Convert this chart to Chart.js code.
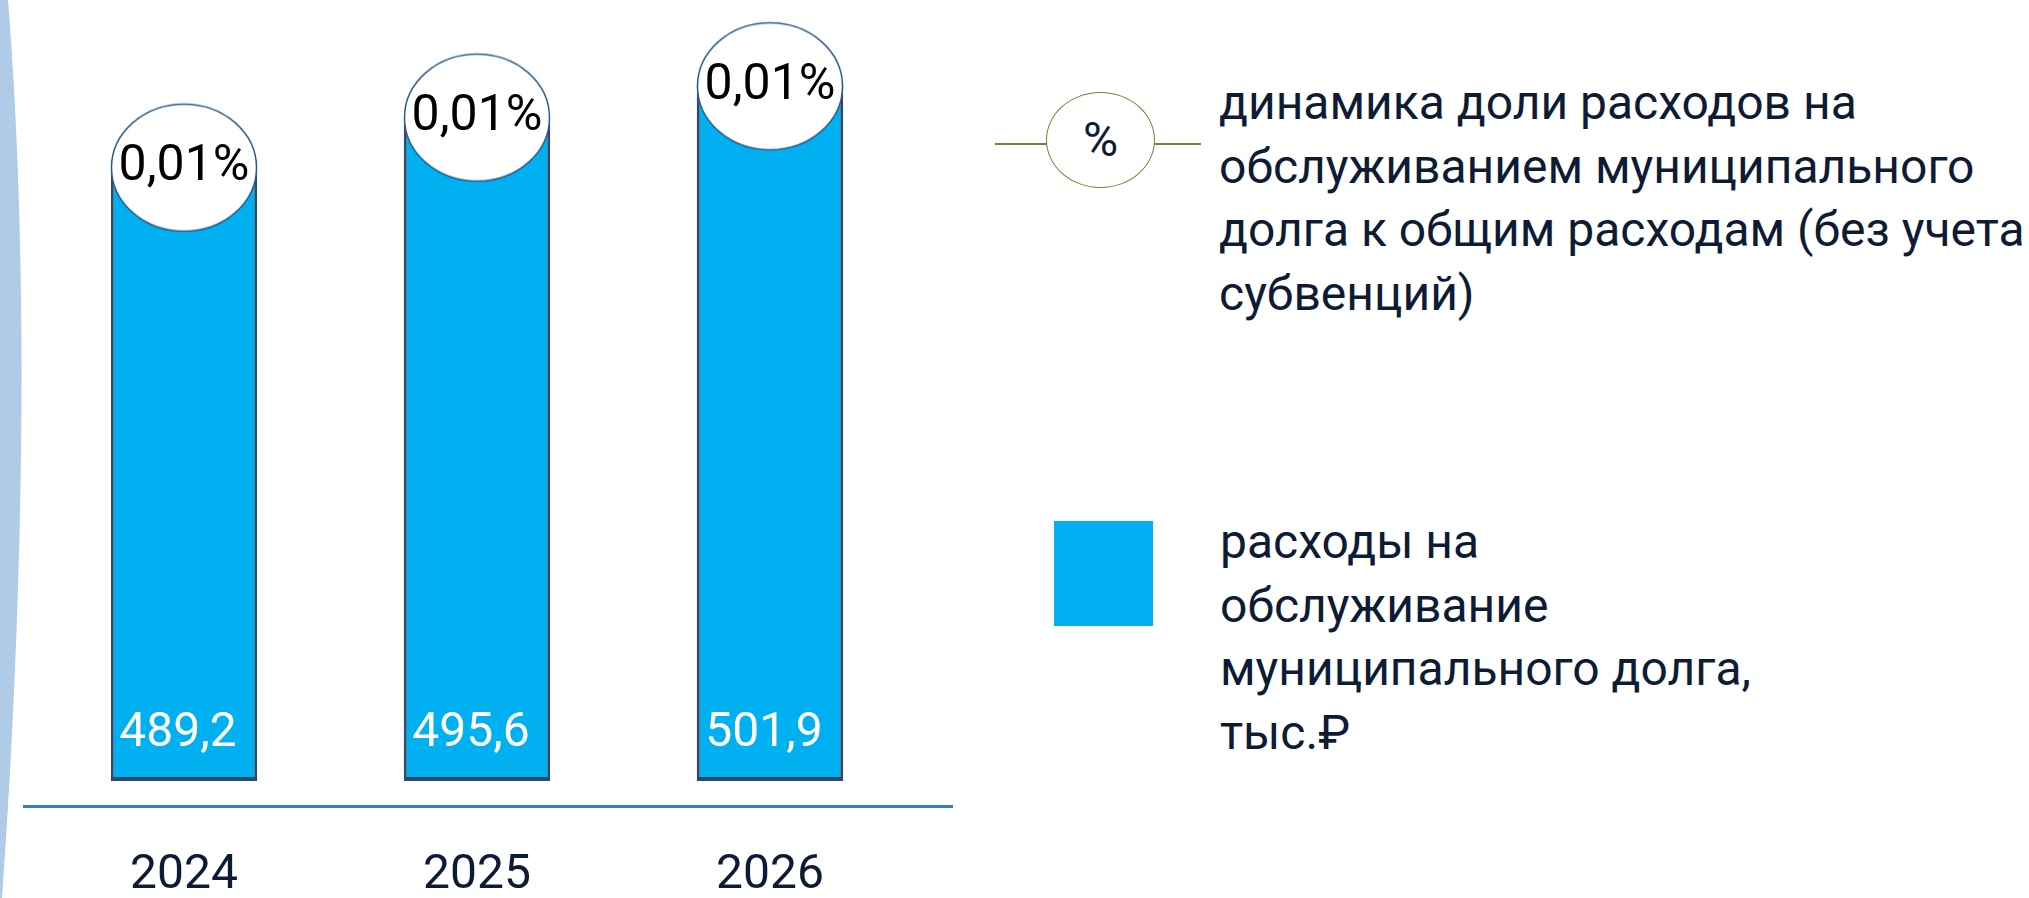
<!DOCTYPE html>
<html lang="ru">
<head>
<meta charset="utf-8">
<title>Расходы на обслуживание муниципального долга</title>
<script src="https://cdn.jsdelivr.net/npm/chart.js@4/dist/chart.umd.min.js"></script>
<style>
  html, body { margin: 0; padding: 0; background: #fff; }
  body { width: 2029px; height: 898px; position: relative; overflow: hidden; font-family: Roboto, "Noto Sans", sans-serif; }
  #stripe { position: absolute; left: 0; top: 0; z-index: 2; }
  #chartBox { position: absolute; left: 0; top: 0; width: 980px; height: 946px; }
  .legend-text { position: absolute; font-size: 48px; line-height: 63.5px; color: #0e1b34; white-space: nowrap; }
  #lineMark { position: absolute; left: 995px; top: 143px; width: 206px; height: 2px; background: #77813c; }
  #ellMark { position: absolute; left: 1046px; top: 92px; width: 107px; height: 94px; border: 1.5px solid #77813c; border-radius: 50%; background: #fff;
             font-size: 48px; line-height: 94px; text-align: center; color: #0e1b34; }
  #boxMark { position: absolute; left: 1054px; top: 521px; width: 99px; height: 105px; background: #00b0f0; }
</style>
</head>
<body>
<svg id="stripe" width="40" height="898"><path d="M0 0 L8 0 C 24 200, 30 500, 2 898 L0 898 Z" fill="#afcbe7"/></svg>
<div id="chartBox"><canvas id="debtChart"></canvas></div>

<div id="lineMark"></div>
<div id="ellMark">%</div>
<div class="legend-text" id="legendShare" style="left:1219px; top:71px;"></div>

<div id="boxMark"></div>
<div class="legend-text" id="legendCost" style="left:1220px; top:510px;"></div>

<script>
// данные
var years = ['2024', '2025', '2026'];
var costs = [489.2, 495.6, 501.9];          // тыс. руб.
var shares = [0.0102, 0.0110, 0.0115];      // %, на графике округлено до 0,01%
var shareLabel = ['динамика доли расходов на', 'обслуживанием муниципального', 'долга к общим расходам (без учета', 'субвенций)'];
var costLabel = ['расходы на', 'обслуживание', 'муниципального долга,', 'тыс.₽'];

document.getElementById('legendShare').innerHTML = shareLabel.join('<br>');
document.getElementById('legendCost').innerHTML = costLabel.join('<br>');

// белый овал для точек
var oval = document.createElement('canvas');
oval.width = 150;
oval.height = 132;
var octx = oval.getContext('2d');
octx.beginPath();
octx.ellipse(75, 66, 72.5, 63.5, 0, 0, Math.PI * 2);
octx.fillStyle = '#ffffff';
octx.fill();
octx.lineWidth = 1.5;
octx.strokeStyle = '#2b5c8c';
octx.stroke();

function fmt(v, d) {
    return v.toFixed(d).replace('.', ',');
}

var valueLabels = {
    id: 'valueLabels',
    afterDatasetsDraw: function (chart) {
        var ctx = chart.ctx;
        ctx.save();
        ctx.textAlign = 'center';
        ctx.textBaseline = 'middle';
        ctx.font = '48px Roboto';

        // подписи столбцов
        chart.getDatasetMeta(1).data.forEach(function (bar, i) {
            ctx.fillStyle = '#ffffff';
            ctx.fillText(fmt(costs[i], 1), bar.x - 6, bar.base - 47);
        });
        // подписи доли
        ctx.font = '50px Roboto';
        chart.getDatasetMeta(0).data.forEach(function (pt, i) {
            ctx.fillStyle = '#000000';
            ctx.fillText(fmt(shares[i], 2) + '%', pt.x, pt.y);
        });
        ctx.restore();
    },
    beforeDatasetsDraw: function (chart) {
        // линия оси
        var ctx = chart.ctx;
        ctx.save();
        ctx.fillStyle = '#2e7cd4';
        ctx.fillRect(23, chart.chartArea.bottom - 1, 930, 3);
        ctx.restore();
    }
};

new Chart(document.getElementById('debtChart'), {
    type: 'bar',
    data: {
        labels: years,
        datasets: [{
            type: 'line',
            label: shareLabel.join(' '),
            data: shares,
            yAxisID: 'y1',
            showLine: false,
            pointStyle: oval,
            pointRadius: 60,
            pointHoverRadius: 60,
            borderColor: '#77813c',
            backgroundColor: '#ffffff',
            clip: false,
            order: 0
        }, {
            label: costLabel.join(' '),
            data: costs,
            yAxisID: 'y',
            base: 390,
            backgroundColor: '#00b0f0',
            borderColor: '#2d4a6e',
            borderWidth: { left: 3, right: 3, bottom: 4, top: 0 },
            borderSkipped: false,
            categoryPercentage: 1,
            barPercentage: 0.5,
            order: 1
        }]
    },
    options: {
        responsive: true,
        maintainAspectRatio: false,
        animation: false,
        layout: {
            autoPadding: false,
            padding: { left: 37.5, right: 63.5, top: 55, bottom: 0 }
        },
        plugins: {
            legend: { display: false },
            tooltip: { enabled: false }
        },
        scales: {
            x: {
                grid: { display: false, drawTicks: false },
                border: { display: false },
                ticks: {
                    padding: 46,
                    color: '#0e1b34',
                    font: { family: 'Roboto', size: 48, lineHeight: 1 }
                }
            },
            y: {
                display: false,
                min: 386,
                max: 506
            },
            y1: {
                display: false,
                position: 'right',
                min: 0,
                max: 0.012
            }
        }
    },
    plugins: [valueLabels]
});
</script>
</body>
</html>
